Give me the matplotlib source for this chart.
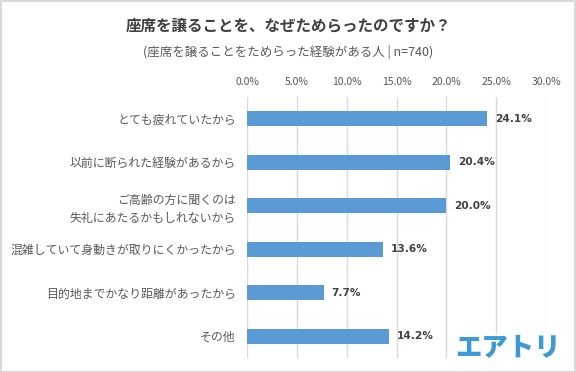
import matplotlib
matplotlib.use("Agg")
import matplotlib.pyplot as plt
from matplotlib.patches import Rectangle

plt.rcParams['font.family'] = ['Noto Sans CJK JP', 'DejaVu Sans']

categories = ["とても疲れていたから", "以前に断られた経験があるから",
              "ご高齢の方に聞くのは\n失礼にあたるかもしれないから",
              "混雑していて身動きが取りにくかったから",
              "目的地までかなり距離があったから", "その他"]
values = [24.1, 20.4, 20.0, 13.6, 7.7, 14.2]
xticks = [0, 5, 10, 15, 20, 25, 30]
xtick_labels = ["0.0%", "5.0%", "10.0%", "15.0%", "20.0%", "25.0%", "30.0%"]
title = "座席を譲ることを、なぜためらったのですか？"
subtitle = "(座席を譲ることをためらった経験がある人 | n=740)"

W, H = 576, 372
fig = plt.figure(figsize=(W / 100, H / 100), dpi=100)
ax = fig.add_axes([247 / W, 1 - 358 / H, (546 - 247) / W, (358 - 97) / H])

ypos = list(range(len(categories)))
ax.barh(ypos, values, height=0.345, color="#5b9bd5", zorder=2)
ax.set_ylim(len(categories) - 0.5, -0.5)
ax.set_xlim(0, 30)
ax.set_xticks(xticks)
ax.set_xticklabels(xtick_labels)
ax.xaxis.tick_top()
ax.tick_params(axis='x', length=0, pad=7.5, labelsize=7.5, colors="#595959")
ax.set_yticks(ypos)
ax.set_yticklabels(categories, fontsize=8.6, color="#595959", linespacing=1.45)
ax.tick_params(axis='y', length=0, pad=8)
ax.grid(axis='x', color="#d9d9d9", linewidth=1, zorder=0)
for s in ax.spines.values():
    s.set_visible(False)

for y, v in zip(ypos, values):
    ax.text(v + 0.8, y, f"{v:.1f}%", va='center', ha='left', fontsize=7.6,
            fontweight='bold', color="#404040", family=['DejaVu Sans'])

fig.text(0.5, 1 - 25 / H, title, ha='center', va='center', fontsize=11.2,
         fontweight='bold', color="#404040")
fig.text(0.5, 1 - 52 / H, subtitle, ha='center', va='center', fontsize=9,
         color="#595959")

# logo with white background
fig.patches.append(Rectangle((452 / W, 1 - 364 / H), 114 / W, 30 / H,
                             transform=fig.transFigure, facecolor='white',
                             edgecolor='none', zorder=5))
fig.text(508 / W, 1 - 347 / H, "エアトリ", ha='center', va='center',
         fontsize=19, fontweight='heavy', color="#3d9ad6", zorder=6)

# border
fig.patches.append(Rectangle((0.5 / W, 0.5 / H), (W - 1.5) / W, (H - 1.5) / H,
                             transform=fig.transFigure, facecolor='none',
                             edgecolor="#d9d9d9", linewidth=1.5, zorder=10))

fig.savefig("out.png", dpi=100)
